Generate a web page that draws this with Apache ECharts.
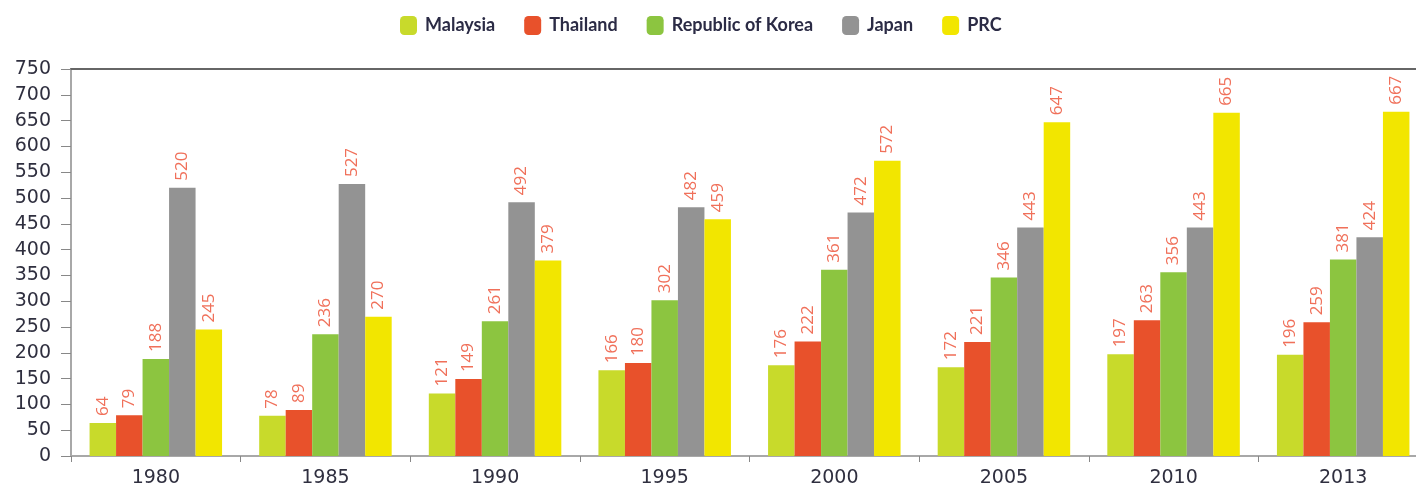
<!DOCTYPE html>
<html>
<head>
<meta charset="utf-8">
<script src="https://cdn.jsdelivr.net/npm/echarts@6/dist/echarts.min.js"></script>
<style>html,body{margin:0;padding:0;background:#fff;}#c{width:1416px;height:493px;}</style>
</head>
<body>
<div id="c"></div>
<script>
const categories = ['1980','1985','1990','1995','2000','2005','2010','2013'];
const seriesNames = ['Malaysia','Thailand','Republic of Korea','Japan','PRC'];
const malaysia = [64,78,121,166,176,172,197,196];
const thailand = [79,89,149,180,222,221,263,259];
const korea = [188,236,261,302,361,346,356,381];
const japan = [520,527,492,482,472,443,443,424];
const prc = [245,270,379,459,572,647,665,667];
const colors = ['#c8da2b','#e8512b','#8cc540','#939393','#f2e600'];
const values = [malaysia, thailand, korea, japan, prc];

const chart = echarts.init(document.getElementById('c'));
chart.setOption({
  animation: false,
  textStyle: {fontFamily: 'DejaVu Sans'},
  legend: {
    top: 11, left: 395, itemWidth: 17, itemHeight: 19, itemGap: 29,
    textStyle: {fontSize: 18, color: '#2b2b45', fontFamily: 'Lato', fontWeight: 'bold', padding: [0, 0, 0, 3]},
    data: seriesNames
  },
  grid: {left: 71, width: 1357, top: 69, bottom: 37, containLabel: false, outerBoundsMode: 'none'},
  xAxis: [{
    type: 'category', data: categories,
    axisLine: {lineStyle: {color: '#a8a8a8', width: 2}},
    axisTick: {show: true, length: 6, lineStyle: {color: '#888', width: 1}},
    axisLabel: {fontSize: 19, color: '#2f2f3f', margin: 13, fontFamily: 'DejaVu Sans'}
  }, {
    type: 'category', data: categories, position: 'top',
    axisLine: {show: true, lineStyle: {color: '#666', width: 2}},
    axisTick: {show: false}, axisLabel: {show: false}
  }],
  yAxis: {
    type: 'value', min: 0, max: 750, interval: 50,
    axisLine: {show: true, lineStyle: {color: '#a8a8a8', width: 2}},
    axisTick: {show: true, length: 10, lineStyle: {color: '#888', width: 1}},
    axisLabel: {fontSize: 19, color: '#2f2f3f', margin: 20, fontFamily: 'DejaVu Sans'},
    splitLine: {show: false}
  },
  series: seriesNames.map((n, i) => ({
    name: n, type: 'bar', data: values[i], barWidth: 26.5, barGap: '0%',
    itemStyle: {color: colors[i]},
    label: {
      show: true, position: 'top', rotate: 90, align: 'left', verticalAlign: 'middle',
      distance: 7, color: '#f0705a', fontSize: 17, fontFamily: 'Open Sans'
    }
  }))
});
</script>
</body>
</html>
